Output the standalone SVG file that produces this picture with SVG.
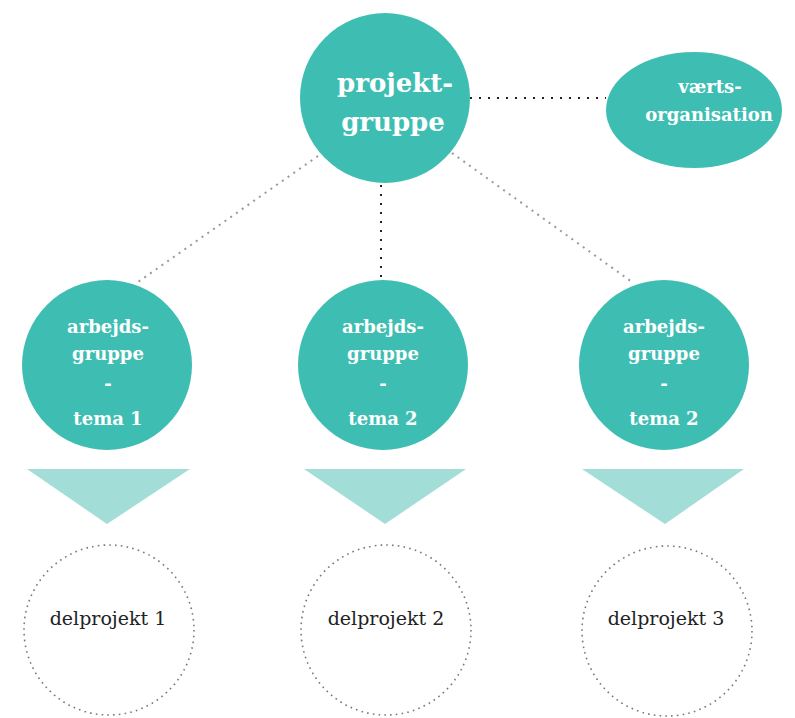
<svg xmlns="http://www.w3.org/2000/svg" width="795" height="718" viewBox="0 0 795 718">
<style>
.node{fill:#3ebeb2}
.wt{fill:#ffffff;font-family:"DejaVu Serif",serif;font-weight:bold;text-anchor:middle}
.tri{fill:#a2ddd8}
.dc{fill:none;stroke:#777;stroke-width:1.6;stroke-dasharray:1.6 4.2}
.dt{fill:#222;font-family:"DejaVu Serif",serif;font-size:19px;text-anchor:middle}
.ld{stroke:#222;stroke-width:2;stroke-dasharray:2 7;fill:none}
.lg{stroke:#999;stroke-width:2;stroke-dasharray:2 5;fill:none}
</style>
<rect width="795" height="718" fill="#ffffff"/>
<g id="connectors">
<line class="ld" x1="470" y1="98" x2="606" y2="98"/>
<line class="ld" x1="381" y1="185" x2="381" y2="281"/>
<line class="lg" x1="318" y1="156" x2="138" y2="282"/>
<line class="lg" x1="452" y1="153" x2="632" y2="282"/>
</g>
<g id="projektgruppe">
<circle class="node" cx="385" cy="98" r="85"/>
<text class="wt" x="395" y="92" font-size="26">projekt-</text>
<text class="wt" x="393" y="131" font-size="26">gruppe</text>
</g>
<g id="vaertsorganisation">
<ellipse class="node" cx="694" cy="110" rx="88" ry="58"/>
<text class="wt" x="710" y="93" font-size="18">værts-</text>
<text class="wt" x="709" y="121" font-size="18">organisation</text>
</g>
<g id="arbejdsgruppe1">
<circle class="node" cx="107" cy="365" r="85"/>
<text class="wt" x="108" y="333" font-size="18">arbejds-</text>
<text class="wt" x="108" y="360" font-size="18">gruppe</text>
<text class="wt" x="108" y="390" font-size="18">-</text>
<text class="wt" x="108" y="425" font-size="18">tema 1</text>
</g>
<g id="arbejdsgruppe2">
<circle class="node" cx="383" cy="365" r="85"/>
<text class="wt" x="383" y="333" font-size="18">arbejds-</text>
<text class="wt" x="383" y="360" font-size="18">gruppe</text>
<text class="wt" x="383" y="390" font-size="18">-</text>
<text class="wt" x="383" y="425" font-size="18">tema 2</text>
</g>
<g id="arbejdsgruppe3">
<circle class="node" cx="664" cy="365" r="85"/>
<text class="wt" x="664" y="333" font-size="18">arbejds-</text>
<text class="wt" x="664" y="360" font-size="18">gruppe</text>
<text class="wt" x="664" y="390" font-size="18">-</text>
<text class="wt" x="664" y="425" font-size="18">tema 2</text>
</g>
<g id="arrows">
<polygon class="tri" points="27,469 190,469 107,524"/>
<polygon class="tri" points="304,469 466,469 385,524"/>
<polygon class="tri" points="582,469 744,469 665,524"/>
</g>
<g id="delprojekt1">
<circle class="dc" cx="109" cy="630" r="85"/>
<text class="dt" x="108" y="625">delprojekt 1</text>
</g>
<g id="delprojekt2">
<circle class="dc" cx="386" cy="630" r="85"/>
<text class="dt" x="386" y="625">delprojekt 2</text>
</g>
<g id="delprojekt3">
<circle class="dc" cx="667" cy="631" r="85"/>
<text class="dt" x="666" y="625">delprojekt 3</text>
</g>
</svg>
